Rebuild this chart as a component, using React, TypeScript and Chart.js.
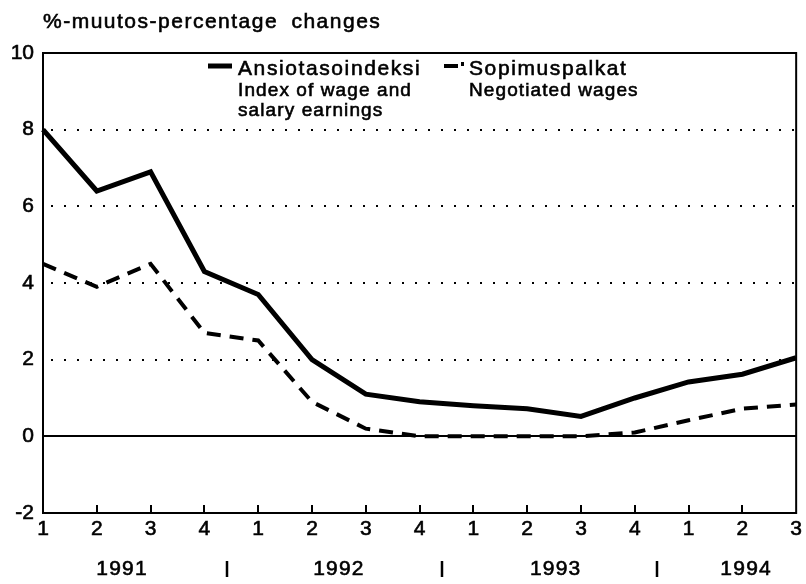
import React, { useEffect, useRef } from "react";
import { Chart, registerables } from "chart.js";

Chart.register(...registerables);

const quarters = ["1", "2", "3", "4", "1", "2", "3", "4", "1", "2", "3", "4", "1", "2", "3"];
const earningsIndex = [8.0, 6.4, 6.9, 4.3, 3.7, 2.0, 1.1, 0.9, 0.8, 0.72, 0.52, 1.0, 1.42, 1.62, 2.05];
const negotiatedWages = [4.5, 3.9, 4.5, 2.7, 2.5, 0.9, 0.2, 0.0, 0.0, 0.0, 0.0, 0.1, 0.42, 0.72, 0.83];
const years = ["1991", "1992", "1993", "1994"];
const yearCentres = [1.47, 5.5, 9.53, 13.07];
const yearSeparators = [3.42, 7.42, 11.42];
const dottedLevels = [2, 4, 6, 8];
const titleText = "%-muutos-percentage changes";
const legend1 = ["Ansiotasoindeksi", "Index of wage and", "salary earnings"];
const legend2 = ["Sopimuspalkat", "Negotiated wages"];

const FONT = "'Liberation Sans', Arial, Helvetica, sans-serif";

function boldText(ctx: any, text: string, x: number, y: number) {
  ctx.fillText(text, x, y);
  ctx.strokeText(text, x, y);
}

const decorPlugin = {
  id: "decor",
  beforeDatasetsDraw(chart: any) {
    const { ctx, chartArea: a, scales } = chart;
    const y = scales.y;
    const x = scales.x;
    ctx.save();
    ctx.strokeStyle = "#000";
    ctx.lineWidth = 2;
    ctx.setLineDash([2, 11]);
    for (const v of dottedLevels) {
      const py = Math.round(y.getPixelForValue(v));
      ctx.beginPath();
      ctx.moveTo(a.left + 8, py);
      ctx.lineTo(a.right, py);
      ctx.stroke();
    }
    ctx.setLineDash([]);
    const p0 = Math.round(y.getPixelForValue(0));
    ctx.beginPath();
    ctx.moveTo(a.left, p0);
    ctx.lineTo(a.right, p0);
    ctx.stroke();
    ctx.strokeRect(a.left, a.top, a.right - a.left, a.bottom - a.top);
    for (let i = 1; i < quarters.length - 1; i++) {
      const px = Math.round(x.getPixelForValue(i));
      ctx.beginPath();
      ctx.moveTo(px, a.bottom);
      ctx.lineTo(px, a.bottom - 8);
      ctx.stroke();
    }
    ctx.restore();
  },
  afterDraw(chart: any) {
    const { ctx, chartArea: a, scales } = chart;
    const x = scales.x;
    ctx.save();
    ctx.fillStyle = "#000";
    ctx.strokeStyle = "#000";
    ctx.textBaseline = "alphabetic";
    ctx.textAlign = "left";
    // title
    ctx.lineWidth = 0.6;
    (ctx as any).letterSpacing = "1.5px";
    (ctx as any).wordSpacing = "6px";
    ctx.font = `21px ${FONT}`;
    boldText(ctx, titleText, a.left, 28);
    (ctx as any).wordSpacing = "0px";
    // legend 1
    ctx.lineWidth = 5;
    ctx.beginPath();
    ctx.moveTo(208, 66);
    ctx.lineTo(232, 66);
    ctx.stroke();
    ctx.lineWidth = 0.6;
    (ctx as any).letterSpacing = "1.6px";
    ctx.font = `21px ${FONT}`;
    boldText(ctx, legend1[0], 238, 75);
    (ctx as any).letterSpacing = "1.1px";
    ctx.font = `19px ${FONT}`;
    boldText(ctx, legend1[1], 238, 96);
    boldText(ctx, legend1[2], 238, 116);
    // legend 2
    ctx.lineWidth = 4;
    ctx.beginPath();
    ctx.moveTo(444, 66);
    ctx.lineTo(458, 66);
    ctx.stroke();
    ctx.beginPath();
    ctx.moveTo(461, 64);
    ctx.lineTo(464, 64);
    ctx.stroke();
    ctx.lineWidth = 0.6;
    (ctx as any).letterSpacing = "1.6px";
    ctx.font = `21px ${FONT}`;
    boldText(ctx, legend2[0], 469, 75);
    (ctx as any).letterSpacing = "1.1px";
    ctx.font = `19px ${FONT}`;
    boldText(ctx, legend2[1], 469, 96);
    // years
    (ctx as any).letterSpacing = "1.2px";
    ctx.font = `21px ${FONT}`;
    ctx.textAlign = "center";
    ctx.textBaseline = "middle";
    years.forEach((yr, i) => {
      boldText(ctx, yr, x.getPixelForValue(yearCentres[i]), 569);
    });
    ctx.lineWidth = 2.5;
    yearSeparators.forEach((v) => {
      const px = Math.round(x.getPixelForValue(v));
      ctx.beginPath();
      ctx.moveTo(px, 561);
      ctx.lineTo(px, 577);
      ctx.stroke();
    });
    ctx.restore();
  },
};

export default function App() {
  const ref = useRef<HTMLCanvasElement>(null);
  useEffect(() => {
    if (!ref.current) return;
    const chart = new Chart(ref.current, {
      type: "line",
      data: {
        labels: quarters,
        datasets: [
          {
            label: legend1[0],
            data: earningsIndex,
            borderColor: "#000",
            borderWidth: 5,
            pointRadius: 0,
            tension: 0,
            fill: false,
          },
          {
            label: legend2[0],
            data: negotiatedWages,
            borderColor: "#000",
            borderWidth: 4,
            borderDash: [14, 9],
            pointRadius: 0,
            tension: 0,
            fill: false,
          },
        ],
      },
      options: {
        responsive: false,
        animation: false,
        devicePixelRatio: 1,
        layout: { padding: { top: 53, right: 9, left: 0, bottom: 0 } },
        plugins: { legend: { display: false }, tooltip: { enabled: false }, title: { display: false } },
        scales: {
          x: {
            type: "category",
            offset: false,
            grid: { display: false, drawTicks: false },
            border: { display: false },
            ticks: {
              color: "#000",
              font: { family: FONT, size: 21 },
              textStrokeColor: "#000",
              textStrokeWidth: 0.6,
              padding: 4,
              maxRotation: 0,
              autoSkip: false,
            },
            afterFit: (s: any) => {
              s.height = 71;
            },
          },
          y: {
            min: -2,
            max: 10,
            grid: { display: false, drawTicks: false },
            border: { display: false },
            ticks: {
              stepSize: 2,
              color: "#000",
              font: { family: FONT, size: 21 },
              textStrokeColor: "#000",
              textStrokeWidth: 0.6,
              padding: 9,
            },
            afterFit: (s: any) => {
              s.width = 43;
            },
          },
        },
      },
      plugins: [decorPlugin],
    });
    return () => chart.destroy();
  }, []);
  return (
    <div style={{ position: "absolute", left: 0, top: 0, width: 806, height: 584, background: "#fff" }}>
      <canvas ref={ref} width={806} height={584} style={{ display: "block" }} />
    </div>
  );
}
